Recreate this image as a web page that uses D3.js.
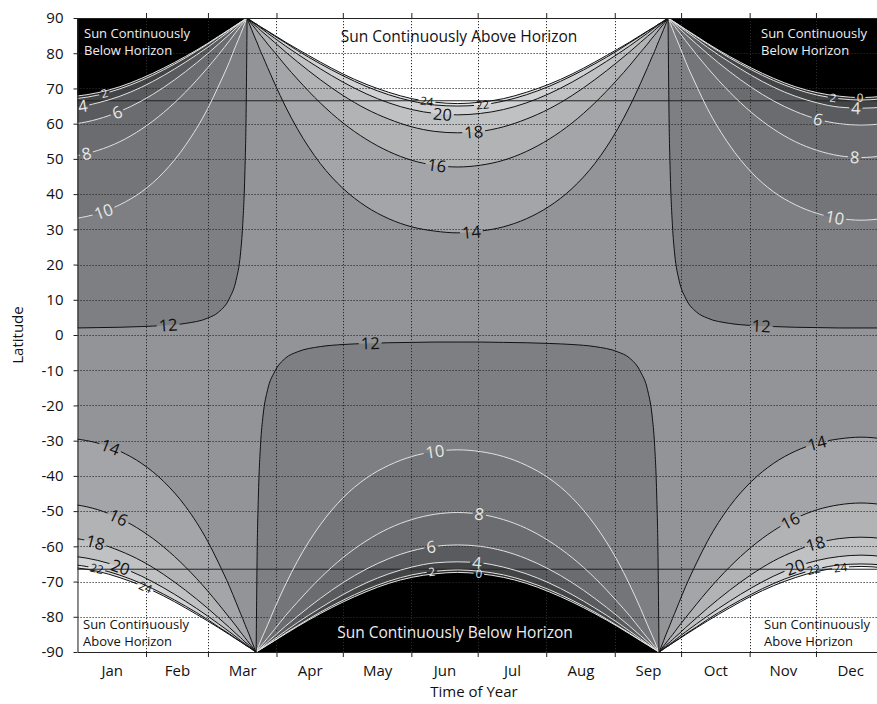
<!DOCTYPE html>
<html>
<head>
<meta charset="utf-8">
<script src="https://cdn.jsdelivr.net/npm/d3@7"></script>
<style>
  body { margin: 0; background: #fff; }
  svg { display: block; font-family: 'Open Sans', sans-serif; }
</style>
</head>
<body>
<script>
// day length contours (hours of daylight) by latitude and time of year

const WIDTH = 877;
const HEIGHT = 704;
const plot = { left: 77.5, right: 884.5, top: 18, bottom: 652 };

const levels = [0, 2, 4, 6, 8, 10, 12, 14, 16, 18, 20, 22, 24];
// shade of each band: below 0, 0-2, 2-4, ... 22-24, above 24
const bandShades = ['#000000', '#2c2c2e', '#434446', '#5a5b5e', '#6b6c6f', '#747578', '#7e7f82',
  '#939497', '#a4a5a8', '#b2b3b5', '#c0c1c3', '#d1d2d4', '#e2e3e5', '#ffffff'];

const months = ['Jan', 'Feb', 'Mar', 'Apr', 'May', 'Jun', 'Jul', 'Aug', 'Sep', 'Oct', 'Nov', 'Dec'];
const monthEdges = [0, 31, 59, 90, 120, 151, 181, 212, 243, 273, 304, 334, 365];
const latTicks = [-90, -80, -70, -60, -50, -40, -30, -20, -10, 0, 10, 20, 30, 40, 50, 60, 70, 80, 90];
const polarCircles = [66.5, -66.5];

// March equinox -> June solstice (mirrored about the solstice up to September)
const summerDays = [76.6, 78.7, 80.8, 81.3, 81.8, 82.8, 83.9, 86.0, 89.1, 94.2, 99.4, 109.8, 120.1, 130.5, 140.8, 151.2, 161.6, 171.9];
const summerSolstice = 171.9;
// latitude of each contour level at summerDays (rows follow levels)
const summerLat = [
  [null, null, -90, -89.8, -89.6, -89.2, -88.8, -88.0, -86.8, -84.8, -82.8, -79.1, -75.8, -72.9, -70.5, -68.8, -67.8, -67.4],
  [null, null, -90, -89.8, -89.6, -89.2, -88.8, -87.9, -86.7, -84.6, -82.6, -78.7, -75.3, -72.3, -69.9, -68.1, -67.1, -66.7],
  [null, null, -90, -89.8, -89.5, -89.1, -88.6, -87.7, -86.3, -84.0, -81.7, -77.5, -73.7, -70.4, -67.8, -65.9, -64.7, -64.4],
  [null, null, -90, -89.7, -89.5, -88.9, -88.3, -87.1, -85.4, -82.6, -79.9, -74.8, -70.3, -66.5, -63.5, -61.3, -60.0, -59.6],
  [null, null, -90, -89.6, -89.2, -88.4, -87.6, -86.0, -83.6, -79.6, -75.9, -69.0, -63.2, -58.5, -54.9, -52.4, -50.9, -50.4],
  [null, null, -90, -89.3, -88.5, -86.9, -85.3, -82.3, -77.7, -70.7, -64.3, -53.9, -46.2, -40.7, -37.0, -34.5, -33.1, -32.6],
  [null, null, -90, -60, -46, -31, -23, -15.5, -10.5, -6.5, -4.8, -3.3, -2.7, -2.4, -2.2, -2.1, -2.0, -2.0],
  [90, 86.8, 83.6, 82.9, 82.1, 80.5, 79.0, 75.9, 71.5, 64.7, 58.6, 48.7, 41.6, 36.5, 33.0, 30.7, 29.5, 29.0],
  [90, 88.3, 86.7, 86.3, 85.9, 85.1, 84.3, 82.6, 80.3, 76.4, 72.7, 65.9, 60.2, 55.6, 52.1, 49.6, 48.2, 47.7],
  [90, 88.8, 87.6, 87.4, 87.1, 86.5, 85.9, 84.8, 83.1, 80.3, 77.6, 72.5, 68.0, 64.2, 61.3, 59.1, 57.8, 57.4],
  [90, 89.0, 88.1, 87.9, 87.6, 87.2, 86.7, 85.7, 84.3, 82.0, 79.8, 75.6, 71.8, 68.5, 65.9, 64.0, 62.9, 62.5],
  [90, 89.1, 88.3, 88.1, 87.9, 87.5, 87.0, 86.2, 84.9, 82.9, 80.8, 77.0, 73.6, 70.6, 68.2, 66.4, 65.3, 65.0],
  [90, 89.2, 88.3, 88.2, 87.9, 87.5, 87.1, 86.3, 85.1, 83.1, 81.2, 77.5, 74.1, 71.2, 68.9, 67.1, 66.1, 65.7],
];

// September equinox -> December solstice (mirrored about the solstice into the next March)
const winterDays = [263.1, 265.1, 267.1, 267.6, 268.1, 269.1, 270.1, 272.1, 275.0, 280.0, 284.9, 294.9, 304.8, 314.7, 324.6, 334.6, 344.5, 354.4];
const winterSolstice = 354.4;
const winterLat = [
  [null, null, 90, 89.8, 89.6, 89.2, 88.8, 88.0, 86.8, 84.8, 82.8, 79.1, 75.8, 72.9, 70.5, 68.8, 67.8, 67.4],
  [null, null, 90, 89.8, 89.6, 89.2, 88.8, 87.9, 86.7, 84.6, 82.6, 78.7, 75.3, 72.3, 69.9, 68.1, 67.1, 66.7],
  [null, null, 90, 89.8, 89.5, 89.1, 88.6, 87.7, 86.3, 84.0, 81.7, 77.5, 73.7, 70.4, 67.8, 65.9, 64.7, 64.4],
  [null, null, 90, 89.7, 89.5, 88.9, 88.3, 87.1, 85.4, 82.6, 79.9, 74.8, 70.3, 66.5, 63.5, 61.3, 60.0, 59.6],
  [null, null, 90, 89.6, 89.2, 88.4, 87.6, 86.0, 83.6, 79.6, 75.9, 69.0, 63.2, 58.5, 54.9, 52.4, 50.9, 50.4],
  [null, null, 90, 89.3, 88.5, 86.9, 85.3, 82.3, 77.7, 70.7, 64.3, 53.9, 46.2, 40.7, 37.0, 34.5, 33.1, 32.6],
  [null, null, 90, 60, 46, 31, 23, 15.5, 10.5, 6.5, 4.8, 3.3, 2.7, 2.4, 2.2, 2.1, 2.0, 2.0],
  [-90, -86.8, -83.6, -82.9, -82.1, -80.5, -79.0, -75.9, -71.5, -64.7, -58.6, -48.7, -41.6, -36.5, -33.0, -30.7, -29.5, -29.0],
  [-90, -88.3, -86.7, -86.3, -85.9, -85.1, -84.3, -82.6, -80.3, -76.4, -72.7, -65.9, -60.2, -55.6, -52.1, -49.6, -48.2, -47.7],
  [-90, -88.8, -87.6, -87.4, -87.1, -86.5, -85.9, -84.8, -83.1, -80.3, -77.6, -72.5, -68.0, -64.2, -61.3, -59.1, -57.8, -57.4],
  [-90, -89.0, -88.1, -87.9, -87.6, -87.2, -86.7, -85.7, -84.3, -82.0, -79.8, -75.6, -71.8, -68.5, -65.9, -64.0, -62.9, -62.5],
  [-90, -89.1, -88.3, -88.1, -87.9, -87.5, -87.0, -86.2, -84.9, -82.9, -80.8, -77.0, -73.6, -70.6, -68.2, -66.4, -65.3, -65.0],
  [-90, -89.2, -88.3, -88.2, -87.9, -87.5, -87.1, -86.3, -85.1, -83.1, -81.2, -77.5, -74.1, -71.2, -68.9, -67.1, -66.1, -65.7],
];

// contour labels: [level, half (0 summer, 1 winter), day of year]
const labelSpots = [
  [14, 0, 178.4], [16, 0, 162.6], [18, 0, 179.3], [20, 0, 164.9], [22, 0, 183.4], [24, 0, 158.1],
  [12, 0, 132.3], [10, 0, 161.7], [8, 0, 181.6], [6, 0, 159.9], [4, 0, 180.7], [2, 0, 160.4], [0, 0, 181.6],
  [12, 1, 406], [12, 1, 309.2], [10, 1, 376.6], [10, 1, 342.6], [8, 1, 368.9], [8, 1, 351.7],
  [6, 1, 382.9], [6, 1, 334.9], [4, 1, 367.5], [4, 1, 352.1], [2, 1, 377], [2, 1, 341.7], [0, 1, 353.9],
  [14, 1, 379.8], [14, 1, 334.5], [16, 1, 383.4], [16, 1, 322.3], [18, 1, 372.9], [18, 1, 333.6],
  [20, 1, 384.3], [20, 1, 324.5], [22, 1, 373.9], [22, 1, 333.1], [24, 1, 395.6], [24, 1, 344.9],
];

const halves = [
  { days: summerDays, lats: summerLat, solstice: summerSolstice, offsets: [0] },
  { days: winterDays, lats: winterLat, solstice: winterSolstice, offsets: [0, -365] },
];

const x = d3.scaleLinear().domain([0, 365]).range([plot.left, plot.right]);
const y = d3.scaleLinear().domain([-90, 90]).range([plot.bottom, plot.top]);

const curvePoints = (half, li) => {
  const pts = [];
  half.days.forEach((d, j) => {
    const lat = half.lats[li][j];
    if (lat !== null) pts.push([d, lat]);
  });
  const back = pts.slice(0, -1).reverse().map(p => [2 * half.solstice - p[0], p[1]]);
  return pts.concat(back);
};

const shadeBeyond = level => level >= 14 ? bandShades[level / 2 + 1] : bandShades[level / 2];

const svg = d3.select('body')
  .append('svg')
  .attr('width', WIDTH)
  .attr('height', HEIGHT);

const defs = svg.append('defs');
defs.append('clipPath')
  .attr('id', 'plot-clip')
  .append('rect')
  .attr('x', plot.left)
  .attr('y', plot.top)
  .attr('width', plot.right - plot.left)
  .attr('height', plot.bottom - plot.top);

// filled bands
const fills = svg.append('g').attr('clip-path', 'url(#plot-clip)');
fills.append('rect')
  .attr('x', plot.left)
  .attr('y', plot.top)
  .attr('width', plot.right - plot.left)
  .attr('height', plot.bottom - plot.top)
  .attr('fill', bandShades[7]);

const fillOrder = [12, 10, 8, 6, 4, 2, 0, 14, 16, 18, 20, 22, 24];
halves.forEach(half => half.offsets.forEach(off => {
  fillOrder.forEach(level => {
    const li = levels.indexOf(level);
    const row = half.lats[li];
    const edge = row[row.length - 1] > 0 ? 90 : -90;
    const area = d3.area()
      .x(p => x(p[0] + off))
      .y0(y(edge))
      .y1(p => y(p[1]))
      .curve(d3.curveMonotoneX);
    fills.append('path')
      .attr('d', area(curvePoints(half, li)))
      .attr('fill', shadeBeyond(level));
  });
}));

// dotted grid
const grid = svg.append('g')
  .attr('stroke', '#2a2a2a')
  .attr('stroke-width', 1)
  .attr('stroke-dasharray', '1.2,1.8');

grid.selectAll('line.h')
  .data(latTicks.filter(d => Math.abs(d) < 90))
  .enter()
  .append('line')
  .attr('x1', plot.left)
  .attr('x2', WIDTH)
  .attr('y1', d => Math.round(y(d)) + 0.5)
  .attr('y2', d => Math.round(y(d)) + 0.5);

grid.selectAll('line.v')
  .data(monthEdges.slice(1, -1))
  .enter()
  .append('line')
  .attr('x1', d => Math.round(x(d)) + 0.5)
  .attr('x2', d => Math.round(x(d)) + 0.5)
  .attr('y1', plot.top)
  .attr('y2', plot.bottom);

svg.append('g')
  .selectAll('line')
  .data(polarCircles)
  .enter()
  .append('line')
  .attr('x1', plot.left)
  .attr('x2', WIDTH)
  .attr('y1', d => y(d))
  .attr('y2', d => y(d))
  .attr('stroke', '#222')
  .attr('stroke-width', 1);

// contour lines
const contourPaths = {};
const lines = svg.append('g')
  .attr('clip-path', 'url(#plot-clip)')
  .attr('fill', 'none');

halves.forEach((half, hi) => half.offsets.forEach(off => {
  const line = d3.line()
    .x(p => x(p[0] + off))
    .y(p => y(p[1]))
    .curve(d3.curveMonotoneX);
  levels.forEach((level, li) => {
    contourPaths[level + '_' + hi + '_' + off] = lines.append('path')
      .attr('d', line(curvePoints(half, li)))
      .attr('stroke', level <= 10 ? '#e2e2e2' : '#111')
      .attr('stroke-width', 1);
  });
}));

const placeOnPath = (node, targetX) => {
  const len = node.getTotalLength();
  let best = null, bestDx = Infinity, bestL = 0;
  for (let l = 0; l <= len; l += 1) {
    const p = node.getPointAtLength(l);
    const dx = Math.abs(p.x - targetX);
    if (dx < bestDx) { bestDx = dx; best = p; bestL = l; }
  }
  const a = node.getPointAtLength(Math.max(0, bestL - 6));
  const b = node.getPointAtLength(Math.min(len, bestL + 6));
  let ang = Math.atan2(b.y - a.y, b.x - a.x) * 180 / Math.PI;
  if (ang > 90) ang -= 180;
  if (ang < -90) ang += 180;
  return { x: best.x, y: best.y, ang: ang };
};

// contour labels with gaps cut into their lines
const labelLayer = svg.append('g').attr('text-anchor', 'middle');
const gaps = {};
labelSpots.forEach(([level, hi, day]) => {
  const off = day > 365 ? -365 : 0;
  const key = level + '_' + hi + '_' + off;
  const pos = placeOnPath(contourPaths[key].node(), x(day + off));
  const small = [0, 2, 22, 24].includes(level);
  const fs = small ? 11.5 : 16.5;
  const t = labelLayer.append('text')
    .attr('transform', 'translate(' + pos.x + ',' + pos.y + ') rotate(' + pos.ang + ')')
    .attr('dy', '0.36em')
    .attr('font-size', fs)
    .attr('fill', level <= 10 ? '#e8e8e8' : '#111')
    .text(level);
  const w = t.node().getComputedTextLength();
  (gaps[key] = gaps[key] || []).push({ x: pos.x, y: pos.y, ang: pos.ang, w: w + 4, h: fs * 0.8 });
});

Object.keys(gaps).forEach(key => {
  const id = 'gap' + key.replace(/[^0-9a-z]/gi, 'm');
  const mask = defs.append('mask')
    .attr('id', id)
    .attr('maskUnits', 'userSpaceOnUse')
    .attr('x', 0).attr('y', 0)
    .attr('width', WIDTH).attr('height', HEIGHT);
  mask.append('rect').attr('width', WIDTH).attr('height', HEIGHT).attr('fill', 'white');
  gaps[key].forEach(r => {
    mask.append('rect')
      .attr('x', -r.w / 2)
      .attr('y', -r.h / 2)
      .attr('width', r.w)
      .attr('height', r.h)
      .attr('transform', 'translate(' + r.x + ',' + r.y + ') rotate(' + r.ang + ')')
      .attr('fill', 'black');
  });
  contourPaths[key].attr('mask', 'url(#' + id + ')');
});

// region notes
const notes = svg.append('g');
notes.append('text')
  .attr('x', 459).attr('y', 37).attr('dy', '0.35em')
  .attr('text-anchor', 'middle').attr('font-size', 15.5).attr('fill', '#111')
  .text('Sun Continuously Above Horizon');
notes.append('text')
  .attr('x', 455).attr('y', 633).attr('dy', '0.35em')
  .attr('text-anchor', 'middle').attr('font-size', 15.5).attr('fill', '#eee')
  .text('Sun Continuously Below Horizon');

const cornerNotes = [
  { x: 84, y: 33, fill: '#eee', lines: ['Sun Continuously', 'Below Horizon'] },
  { x: 761, y: 33, fill: '#eee', lines: ['Sun Continuously', 'Below Horizon'] },
  { x: 83, y: 624, fill: '#111', lines: ['Sun Continuously', 'Above Horizon'] },
  { x: 764, y: 624, fill: '#111', lines: ['Sun Continuously', 'Above Horizon'] },
];
cornerNotes.forEach(n => {
  n.lines.forEach((s, i) => {
    notes.append('text')
      .attr('x', n.x).attr('y', n.y + i * 17).attr('dy', '0.35em')
      .attr('font-size', 13).attr('fill', n.fill)
      .text(s);
  });
});

// axes
const yAxis = d3.axisLeft(y)
  .tickValues(latTicks)
  .tickSize(4)
  .tickSizeOuter(0)
  .tickPadding(10)
  .tickFormat(d => String(d));

svg.append('g')
  .attr('transform', 'translate(' + plot.left + ',0)')
  .call(yAxis);

const xTicks = d3.axisBottom(x)
  .tickValues(monthEdges.slice(1, -1))
  .tickSize(5)
  .tickSizeOuter(0)
  .tickFormat('');

svg.append('g')
  .attr('transform', 'translate(0,' + plot.bottom + ')')
  .call(xTicks);

const monthMids = months.map((m, i) => (monthEdges[i] + monthEdges[i + 1]) / 2);
const xLabels = d3.axisBottom(x)
  .tickValues(monthMids)
  .tickSize(0)
  .tickPadding(13)
  .tickFormat((d, i) => months[i]);

const xl = svg.append('g')
  .attr('transform', 'translate(0,' + plot.bottom + ')')
  .call(xLabels);
xl.select('.domain').remove();

const topTicks = d3.axisTop(x)
  .tickValues(monthEdges.slice(1, -1))
  .tickSize(5)
  .tickSizeOuter(0)
  .tickFormat('');

svg.append('g')
  .attr('transform', 'translate(0,' + plot.top + ')')
  .call(topTicks);

svg.selectAll('.tick text')
  .attr('font-family', 'Open Sans, sans-serif')
  .attr('font-size', 15)
  .attr('fill', '#111');
svg.selectAll('.domain, .tick line').attr('stroke', '#222');

svg.append('text')
  .attr('x', 474).attr('y', 692).attr('dy', '0.35em')
  .attr('text-anchor', 'middle').attr('font-size', 15).attr('fill', '#111')
  .text('Time of Year');

svg.append('text')
  .attr('transform', 'translate(18,' + (plot.top + plot.bottom) / 2 + ') rotate(-90)')
  .attr('dy', '0.35em')
  .attr('text-anchor', 'middle').attr('font-size', 15).attr('fill', '#111')
  .text('Latitude');
</script>
</body>
</html>
